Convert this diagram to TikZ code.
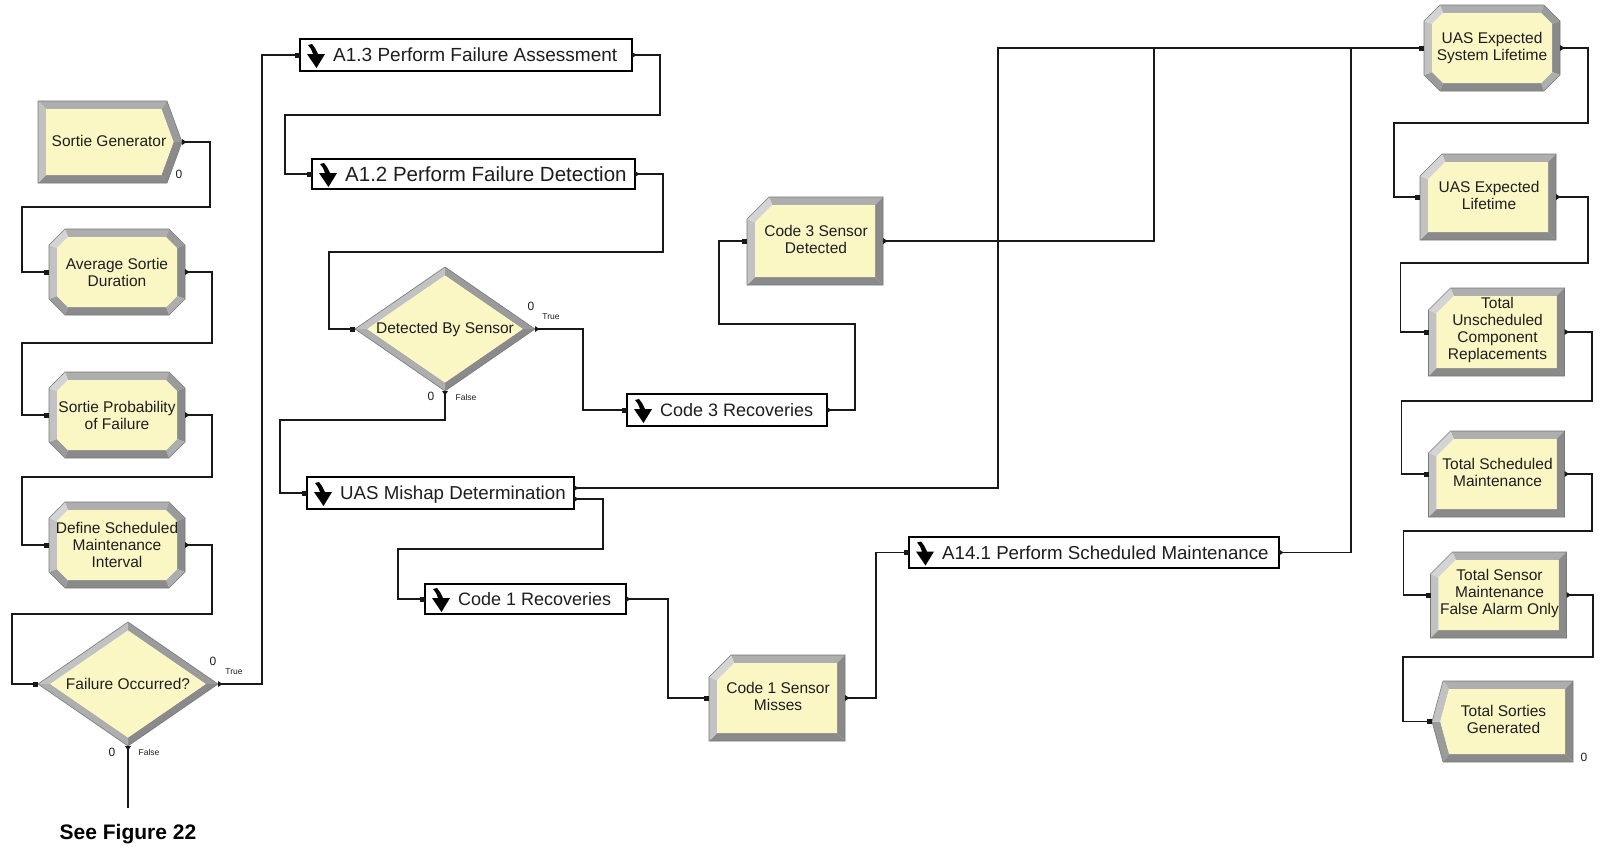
\documentclass[tikz,border=0pt]{standalone}
\usepackage{fontspec}
\setmainfont{Liberation Sans}

\definecolor{modfill}{RGB}{250,247,197}
\definecolor{txt}{RGB}{30,30,30}
\definecolor{wire}{RGB}{25,25,25}
\definecolor{bvA}{RGB}{212,212,212}
\definecolor{bvB}{RGB}{194,194,194}
\definecolor{bvC}{RGB}{174,174,174}
\definecolor{bvD}{RGB}{155,155,155}
\definecolor{bvE}{RGB}{138,138,138}
\definecolor{rimc}{RGB}{120,120,120}

% one bevel facet
\newcommand\bq[5]{\fill[#1] #2 -- #3 -- #4 -- #5 -- cycle;}

% Create module (pentagon pointing right), 144 x 82
\newcommand\createmod[4]{%
  \begin{scope}[shift={(#2,#3)}]
    \bq{bvC}{(-72,-41)}{(57,-41)}{(51.4,-33)}{(-64,-33)}
    \bq{bvD}{(57,-41)}{(72,0)}{(63.5,0)}{(51.4,-33)}
    \bq{bvE}{(72,0)}{(57,41)}{(51.4,33)}{(63.5,0)}
    \bq{bvE}{(57,41)}{(-72,41)}{(-64,33)}{(51.4,33)}
    \bq{bvB}{(-72,41)}{(-72,-41)}{(-64,-33)}{(-64,33)}
    \fill[modfill] (-64,-33) -- (51.4,-33) -- (63.5,0) -- (51.4,33) -- (-64,33) -- cycle;
    \draw[rim] (-72,-41) -- (57,-41) -- (72,0) -- (57,41) -- (-72,41) -- cycle;
  \end{scope}
  \node[hull={144}{82}] (#1) at (#2,#3) {};
  \node[modtext] (#1-t) at ({#2-1},{#3-1}) {#4};
}

% Assign-type module (octagon), 136 x 86
\newcommand\assignmod[4]{%
  \begin{scope}[shift={(#2,#3)}]
    \bq{bvC}{(-52,-43)}{(52,-43)}{(49,-35)}{(-49,-35)}
    \bq{bvD}{(52,-43)}{(68,-27)}{(60,-24)}{(49,-35)}
    \bq{bvE}{(68,-27)}{(68,27)}{(60,24)}{(60,-24)}
    \bq{bvC}{(68,27)}{(52,43)}{(49,35)}{(60,24)}
    \bq{bvE}{(52,43)}{(-52,43)}{(-49,35)}{(49,35)}
    \bq{bvD}{(-52,43)}{(-68,27)}{(-60,24)}{(-49,35)}
    \bq{bvB}{(-68,27)}{(-68,-27)}{(-60,-24)}{(-60,24)}
    \bq{bvA}{(-68,-27)}{(-52,-43)}{(-49,-35)}{(-60,-24)}
    \fill[modfill] (-49,-35) -- (49,-35) -- (60,-24) -- (60,24) -- (49,35) -- (-49,35) -- (-60,24) -- (-60,-24) -- cycle;
    \draw[rim] (-52,-43) -- (52,-43) -- (68,-27) -- (68,27) -- (52,43) -- (-52,43) -- (-68,27) -- (-68,-27) -- cycle;
  \end{scope}
  \node[hull={136}{86}] (#1) at (#2,#3) {};
  \node[modtext] (#1-t) at (#2,#3) {#4};
}

% Record module (rectangle, top-left corner cut), width 136, half height #4
\newcommand\recordmod[5]{%
  \begin{scope}[shift={(#2,#3)}]
    \bq{bvC}{(-46,-#4)}{(68,-#4)}{(60,{-#4+8})}{(-42.7,{-#4+8})}
    \bq{bvE}{(68,-#4)}{(68,#4)}{(60,{#4-8})}{(60,{-#4+8})}
    \bq{bvE}{(68,#4)}{(-68,#4)}{(-60,{#4-8})}{(60,{#4-8})}
    \bq{bvB}{(-68,#4)}{(-68,{-#4+22})}{(-60,{-#4+25.3})}{(-60,{#4-8})}
    \bq{bvA}{(-68,{-#4+22})}{(-46,-#4)}{(-42.7,{-#4+8})}{(-60,{-#4+25.3})}
    \fill[modfill] (-42.7,{-#4+8}) -- (60,{-#4+8}) -- (60,{#4-8}) -- (-60,{#4-8}) -- (-60,{-#4+25.3}) -- cycle;
    \draw[rim] (-46,-#4) -- (68,-#4) -- (68,#4) -- (-68,#4) -- (-68,{-#4+22}) -- cycle;
  \end{scope}
  \node[hull={136}{2*#4}] (#1) at (#2,#3) {};
  \node[modtext] (#1-t) at ({#2+1},{#3-2}) {#5};
}

% Dispose module (notched on the left), 141 x 81
\newcommand\disposemod[4]{%
  \begin{scope}[shift={(#2,#3)}]
    \bq{bvC}{(-59.5,-40.5)}{(70.5,-40.5)}{(62.5,-32.5)}{(-53.4,-32.5)}
    \bq{bvE}{(70.5,-40.5)}{(70.5,40.5)}{(62.5,32.5)}{(62.5,-32.5)}
    \bq{bvE}{(70.5,40.5)}{(-59.5,40.5)}{(-53.4,32.5)}{(62.5,32.5)}
    \bq{bvD}{(-59.5,40.5)}{(-70.5,0)}{(-62.2,0)}{(-53.4,32.5)}
    \bq{bvB}{(-70.5,0)}{(-59.5,-40.5)}{(-53.4,-32.5)}{(-62.2,0)}
    \fill[modfill] (-53.4,-32.5) -- (62.5,-32.5) -- (62.5,32.5) -- (-53.4,32.5) -- (-62.2,0) -- cycle;
    \draw[rim] (-59.5,-40.5) -- (70.5,-40.5) -- (70.5,40.5) -- (-59.5,40.5) -- (-70.5,0) -- cycle;
  \end{scope}
  \node[hull={141}{81}] (#1) at (#2,#3) {};
  \node[modtext] (#1-t) at ({#2+1},{#3-2}) {#4};
}

% Decide module (diamond), 180 x 124
\newcommand\decidemod[4]{%
  \begin{scope}[shift={(#2,#3)}]
    \bq{bvB}{(-90,0)}{(0,-62)}{(0,-53.5)}{(-77.7,0)}
    \bq{bvD}{(0,-62)}{(90,0)}{(77.7,0)}{(0,-53.5)}
    \bq{bvE}{(90,0)}{(0,62)}{(0,53.5)}{(77.7,0)}
    \bq{bvC}{(0,62)}{(-90,0)}{(-77.7,0)}{(0,53.5)}
    \fill[modfill] (-77.7,0) -- (0,-53.5) -- (77.7,0) -- (0,53.5) -- cycle;
    \draw[rim] (-90,0) -- (0,-62) -- (90,0) -- (0,62) -- cycle;
  \end{scope}
  \node[hull={180}{124}] (#1) at (#2,#3) {};
  \node[modtext] (#1-t) at (#2,#3) {#4};
}

% submodel glyph: chunky bent down arrow
\newcommand\subicon[2]{\fill[black,shift={(#1,#2)}]
  (1,0) -- (5,-1) -- (8,3) -- (11,9) -- (18,9) -- (9.5,23) -- (0,9) -- (6,9) -- (4,4) -- cycle;}

% Submodel box: name, cx, cy, width, height, font size, text
\newcommand\submod[7]{%
  \node[subbox, minimum width=#4pt, minimum height=#5pt] (#1) at (#2,#3) {};
  \subicon{{#2-#4/2+7}}{{#3-10}}
  \node[subtext, font=\fontsize{#6}{#6}\selectfont] (#1-t) at ({#2-#4/2+33},{#3+0.36*#6}) {#7};
}

% connection points
\newcommand\inmark[1]{\fill[wire] ([xshift=-5pt,yshift=-2.5pt]#1) rectangle ([yshift=2.5pt]#1);}
\newcommand\outmark[1]{\fill[wire] ([yshift=3pt]#1) -- ([xshift=4.5pt]#1) -- ([yshift=-3pt]#1) -- cycle;}
\newcommand\downmark[1]{\fill[wire] ([xshift=-3pt]#1) -- ([xshift=3pt]#1) -- ([yshift=-4.5pt]#1) -- cycle;}

\tikzset{
  hull/.style 2 args={minimum width=#1pt, minimum height=#2pt, inner sep=0pt, outer sep=0pt},
  rim/.style={draw=rimc, line width=0.6pt},
  modtext/.style={font=\fontsize{15.5}{17}\selectfont, text=txt, align=center, inner sep=0pt},
  subbox/.style={draw=black, line width=1.5pt, fill=white, inner sep=0pt, outer sep=0pt},
  subtext/.style={text=txt, anchor=base west, inner sep=0pt},
  conn/.style={draw=wire, line width=1.2pt},
  cnt/.style={font=\fontsize{12}{12}\selectfont, text=txt, inner sep=0pt},
  branch/.style={font=\fontsize{8.5}{9}\selectfont, text=txt, inner sep=0pt}
}

\begin{document}
\begin{tikzpicture}[x=1pt,y=-1pt]
\useasboundingbox (0,0) rectangle (1600,852);
\fill[white] (0,0) rectangle (1600,852);

% ---- left column: sortie set-up ----
\createmod{sg}{110}{142}{Sortie Generator}
\assignmod{avg}{117}{272}{Average Sortie\\Duration}
\assignmod{prob}{117}{415}{Sortie Probability\\of Failure}
\assignmod{dsm}{117}{545}{Define Scheduled\\Maintenance\\Interval}
\decidemod{fo}{128}{684}{Failure Occurred?}

% ---- failure handling ----
\submod{a13}{466}{55}{332}{32}{19}{A1.3 Perform Failure Assessment}
\submod{a12}{473.5}{174}{323}{30}{20.5}{A1.2 Perform Failure Detection}
\decidemod{dbs}{445}{329}{Detected By Sensor}
\submod{c3r}{727}{410}{200}{32}{18}{Code 3 Recoveries}
\recordmod{c3d}{815}{241}{44}{Code 3 Sensor\\Detected}
\submod{um}{440.5}{493}{267}{32}{18.7}{UAS Mishap Determination}
\submod{c1r}{525.5}{599}{201}{30}{18}{Code 1 Recoveries}
\recordmod{c1m}{777}{698}{43}{Code 1 Sensor\\Misses}
\submod{a141}{1094}{552.5}{370}{31}{18.7}{A14.1 Perform Scheduled Maintenance}

% ---- right column: statistics ----
\assignmod{esl}{1492}{48}{UAS Expected\\System Lifetime}
\recordmod{el}{1488}{197}{43}{UAS Expected\\Lifetime}
\recordmod{tu}{1496.5}{332}{44}{Total\\Unscheduled\\Component\\Replacements}
\recordmod{ts}{1496.5}{474}{43}{Total Scheduled\\Maintenance}
\recordmod{tsm}{1498.5}{595}{43}{Total Sensor\\Maintenance\\False Alarm Only}
\disposemod{tsg}{1502.5}{721.5}{Total Sorties\\Generated}

% the mishap submodel has two exits
\coordinate (um-mishap) at ([yshift=5pt]um.east);
\coordinate (um-code1) at ([yshift=-6pt]um.east);

% ---- counters and branch labels ----
\node[cnt] (sg-n) at (179,174) {0};
\node[cnt] (tsg-n) at (1584,757) {0};
\node[cnt] (fo-nt) at (213,661) {0};
\node[branch] (fo-true) at (234,672) {True};
\node[cnt] (fo-nf) at (112,752) {0};
\node[branch] (fo-false) at (149,752) {False};
\node[cnt] (dbs-nt) at (531,306) {0};
\node[branch] (dbs-true) at (551,317) {True};
\node[cnt] (dbs-nf) at (431,396) {0};
\node[branch] (dbs-false) at (466,397) {False};

\node[font=\bfseries\fontsize{21}{21}\selectfont, text=black, inner sep=0pt] (seefig) at (128,834) {See Figure 22};
\coordinate (fig-end) at (128,808);

% ---- connections ----
\draw[conn] (sg.east) -| (210,207) -- (22,207) |- (avg.west);
\draw[conn] (avg.east) -| (212,343) -- (22,343) |- (prob.west);
\draw[conn] (prob.east) -| (212,477) -- (22,477) |- (dsm.west);
\draw[conn] (dsm.east) -| (212,614) -- (12,614) |- (fo.west);
\draw[conn] (fo.east) -| ([xshift=-38pt]a13.west) -- (a13.west);
\draw[conn] (fo.south) -- (fig-end);
\draw[conn] (a13.east) -| (660,115) -| ([xshift=-27pt]a12.west) -- (a12.west);
\draw[conn] (a12.east) -| (663,252) -| ([xshift=-26pt]dbs.west) -- (dbs.west);
\draw[conn] (dbs.east) -| ([xshift=-44pt]c3r.west) -- (c3r.west);
\draw[conn] (c3r.east) -| (855,324) -| ([xshift=-28pt]c3d.west) -- (c3d.west);
\draw[conn] (c3d.east) -| ([xshift=-270pt]esl.west) -- (esl.west);
\draw[conn] (dbs.south) |- (280,420) |- (um.west);
\draw[conn] (um-mishap) -| ([xshift=-426pt]esl.west) -- (esl.west);
\draw[conn] (um-code1) -| (603,549) -| ([xshift=-27pt]c1r.west) -- (c1r.west);
\draw[conn] (c1r.east) -| ([xshift=-41pt]c1m.west) -- (c1m.west);
\draw[conn] (c1m.east) -| ([xshift=-33pt]a141.west) -- (a141.west);
\draw[conn] (a141.east) -| ([xshift=-73pt]esl.west) -- (esl.west);
\draw[conn] (esl.east) -| (1588,123) -| ([xshift=-26pt]el.west) -- (el.west);
\draw[conn] (el.east) -| (1588,263) -| ([xshift=-28pt]tu.west) -- (tu.west);
\draw[conn] (tu.east) -| (1592,401) -| ([xshift=-27pt]ts.west) -- (ts.west);
\draw[conn] (ts.east) -| (1592,531) -| ([xshift=-27pt]tsm.west) -- (tsm.west);
\draw[conn] (tsm.east) -| (1593,657) -| ([xshift=-29pt]tsg.west) -- (tsg.west);

% ---- entry and exit points ----
\foreach \n in {avg,prob,dsm,fo,a13,a12,dbs,c3r,c3d,um,c1r,c1m,a141,esl,el,tu,ts,tsm,tsg}{\inmark{\n.west}}
\foreach \n in {sg,avg,prob,dsm,fo,a13,a12,dbs,c3r,c3d,c1r,c1m,a141,esl,el,tu,ts,tsm}{\outmark{\n.east}}
\outmark{um-mishap}
\outmark{um-code1}
\downmark{fo.south}
\downmark{dbs.south}
\end{tikzpicture}
\end{document}
